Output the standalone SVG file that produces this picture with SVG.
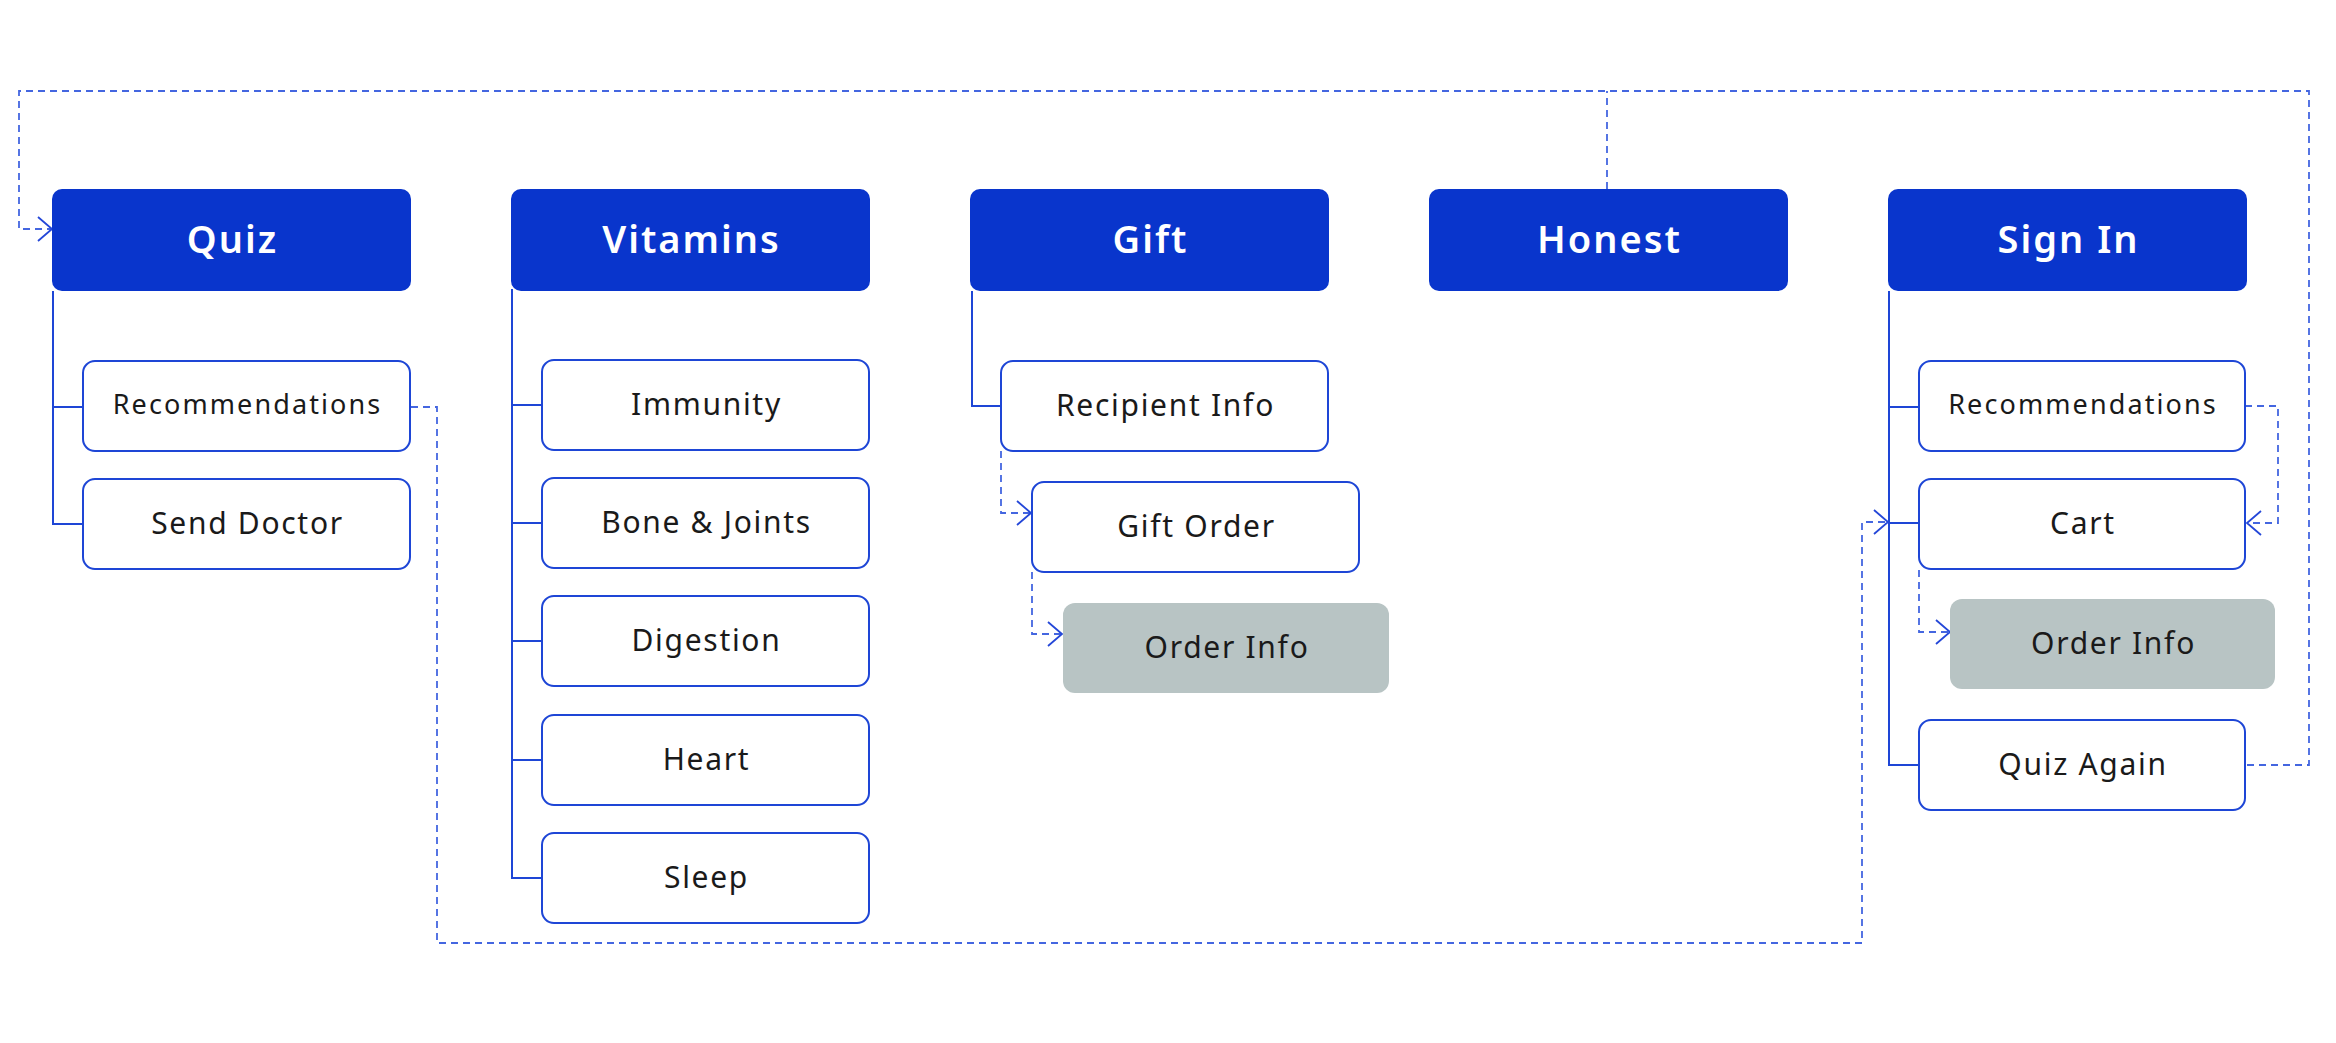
<svg xmlns="http://www.w3.org/2000/svg" width="2336" height="1043" viewBox="0 0 2336 1043">
<style>
.hdr{fill:#0935CC;}
.hdrt{fill:#ffffff;font-family:"Noto Sans","Open Sans",sans-serif;font-size:38px;font-weight:600;text-anchor:middle;letter-spacing:2px;}
.child{fill:#ffffff;stroke:#1E46D6;stroke-width:2;}
.gray{fill:#B8C4C4;}
.ct{fill:#1a1a1a;font-family:"Noto Sans","Open Sans",sans-serif;font-size:30px;text-anchor:middle;letter-spacing:1.7px;}
.ct2{font-size:27px;letter-spacing:2.1px;}
.tree{fill:none;stroke:#1E46D6;stroke-width:2;}
.dash{fill:none;stroke:#4466E0;stroke-width:1.8;stroke-dasharray:7,5;}
</style>
<defs>
<marker id="arr" markerUnits="userSpaceOnUse" markerWidth="20" markerHeight="30" refX="15" refY="13" orient="auto" overflow="visible">
<path d="M1,1 L15,13 L1,25" fill="none" stroke="#2447D8" stroke-width="1.8"/>
</marker>
</defs>
<rect width="2336" height="1043" fill="#ffffff"/>

<g id="connectors">
<path class="tree" d="M53,291 V524 H83 M53,407 H83"/>
<path class="tree" d="M512,289 V878 H542 M512,405 H542 M512,523 H542 M512,641 H542 M512,760 H542"/>
<path class="tree" d="M972,291 V406 H1001"/>
<path class="tree" d="M1889,291 V765 H1919 M1889,407 H1919 M1889,523 H1919"/>
<path class="dash" d="M2247,765 H2309 V91 H19 V229 H52" marker-end="url(#arr)"/>
<path class="dash" d="M1607,189 V91"/>
<path class="dash" d="M411,407 H437 V943 H1862 V522 H1888" marker-end="url(#arr)"/>
<path class="dash" d="M1001,451 V513 H1031" marker-end="url(#arr)"/>
<path class="dash" d="M1032,572 V634 H1062" marker-end="url(#arr)"/>
<path class="dash" d="M2245,406 H2278 V523 H2247" marker-end="url(#arr)"/>
<path class="dash" d="M1919,570 V632 H1950" marker-end="url(#arr)"/>
</g>

<g id="quiz"><rect class="hdr" x="52" y="189" width="359" height="102" rx="10"/><text class="hdrt" x="232.5" y="253">Quiz</text></g>
<g id="vitamins"><rect class="hdr" x="511" y="189" width="359" height="102" rx="10"/><text class="hdrt" x="691.5" y="253">Vitamins</text></g>
<g id="gift"><rect class="hdr" x="970" y="189" width="359" height="102" rx="10"/><text class="hdrt" x="1150.5" y="253">Gift</text></g>
<g id="honest"><rect class="hdr" x="1429" y="189" width="359" height="102" rx="10"/><text class="hdrt" x="1609.5" y="253">Honest</text></g>
<g id="signin"><rect class="hdr" x="1888" y="189" width="359" height="102" rx="10"/><text class="hdrt" x="2068.5" y="253">Sign In</text></g>

<g id="quiz-recommendations"><rect class="child" x="83" y="361" width="327" height="90" rx="12"/><text class="ct ct2" x="247.5" y="414">Recommendations</text></g>
<g id="send-doctor"><rect class="child" x="83" y="479" width="327" height="90" rx="12"/><text class="ct" x="247.5" y="534">Send Doctor</text></g>

<g id="immunity"><rect class="child" x="542" y="360" width="327" height="90" rx="12"/><text class="ct" x="706.5" y="415">Immunity</text></g>
<g id="bone-joints"><rect class="child" x="542" y="478" width="327" height="90" rx="12"/><text class="ct" x="706.5" y="533">Bone &amp; Joints</text></g>
<g id="digestion"><rect class="child" x="542" y="596" width="327" height="90" rx="12"/><text class="ct" x="706.5" y="651">Digestion</text></g>
<g id="heart"><rect class="child" x="542" y="715" width="327" height="90" rx="12"/><text class="ct" x="706.5" y="770">Heart</text></g>
<g id="sleep"><rect class="child" x="542" y="833" width="327" height="90" rx="12"/><text class="ct" x="706.5" y="888">Sleep</text></g>

<g id="recipient-info"><rect class="child" x="1001" y="361" width="327" height="90" rx="12"/><text class="ct" x="1165.5" y="416">Recipient Info</text></g>
<g id="gift-order"><rect class="child" x="1032" y="482" width="327" height="90" rx="12"/><text class="ct" x="1196.5" y="537">Gift Order</text></g>
<g id="gift-order-info"><rect class="gray" x="1063" y="603" width="326" height="90" rx="12"/><text class="ct" x="1227" y="658">Order Info</text></g>

<g id="signin-recommendations"><rect class="child" x="1919" y="361" width="326" height="90" rx="12"/><text class="ct ct2" x="2083" y="414">Recommendations</text></g>
<g id="cart"><rect class="child" x="1919" y="479" width="326" height="90" rx="12"/><text class="ct" x="2083" y="534">Cart</text></g>
<g id="signin-order-info"><rect class="gray" x="1950" y="599" width="325" height="90" rx="12"/><text class="ct" x="2113.5" y="654">Order Info</text></g>
<g id="quiz-again"><rect class="child" x="1919" y="720" width="326" height="90" rx="12"/><text class="ct" x="2083" y="775">Quiz Again</text></g>
</svg>
